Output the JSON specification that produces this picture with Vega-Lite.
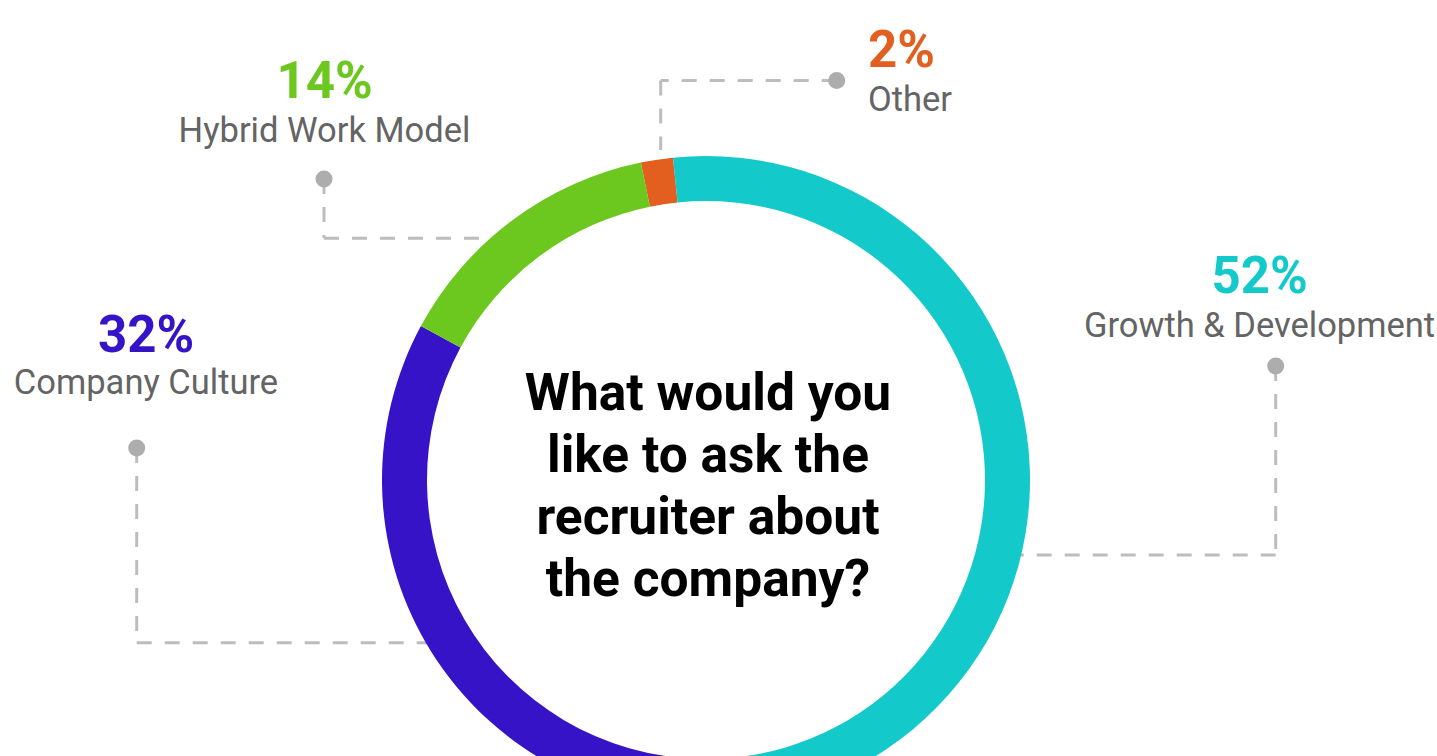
{
  "$schema": "https://vega.github.io/schema/vega-lite/v6.json",
  "width": 1437,
  "height": 756,
  "padding": 0,
  "autosize": {"type": "none"},
  "background": "#ffffff",
  "config": {"view": {"stroke": null}, "font": "Roboto"},
  "datasets": {
    "shares": [
      {"category": "Other", "value": 1.6, "order": 1, "pct": "2%"},
      {"category": "Growth & Development", "value": 52.0, "order": 2, "pct": "52%"},
      {"category": "Company Culture", "value": 32.5, "order": 3, "pct": "32%"},
      {"category": "Hybrid Work Model", "value": 13.9, "order": 4, "pct": "14%"}
    ],
    "leaders": [
      {"category": "Other", "x": 836.7, "y": 80.6, "x2": 660.7, "y2": 80.6},
      {"category": "Other", "x": 660.7, "y": 80.6, "x2": 660.7, "y2": 150},
      {"category": "Hybrid Work Model", "x": 324, "y": 179, "x2": 324, "y2": 238.3},
      {"category": "Hybrid Work Model", "x": 324, "y": 238.3, "x2": 500, "y2": 238.3},
      {"category": "Growth & Development", "x": 1275.7, "y": 366, "x2": 1275.7, "y2": 555},
      {"category": "Growth & Development", "x": 1275.7, "y": 555, "x2": 1010, "y2": 555},
      {"category": "Company Culture", "x": 136.7, "y": 448, "x2": 136.7, "y2": 642.7},
      {"category": "Company Culture", "x": 136.7, "y": 642.7, "x2": 440, "y2": 642.7}
    ],
    "dots": [
      {"category": "Other", "x": 836.7, "y": 80.6},
      {"category": "Hybrid Work Model", "x": 324, "y": 179},
      {"category": "Growth & Development", "x": 1275.7, "y": 366},
      {"category": "Company Culture", "x": 136.7, "y": 448}
    ],
    "labels": [
      {"category": "Other", "pct": "2%", "name": "Other", "x": 868, "yp": 66.7, "yn": 110.7},
      {"category": "Hybrid Work Model", "pct": "14%", "name": "Hybrid Work Model", "x": 324.5, "yp": 98.3, "yn": 141.7},
      {"category": "Growth & Development", "pct": "52%", "name": "Growth & Development", "x": 1259.5, "yp": 293, "yn": 337},
      {"category": "Company Culture", "pct": "32%", "name": "Company Culture", "x": 146, "yp": 351.7, "yn": 394}
    ],
    "center": [
      {"question": "What would you\nlike to ask the\nrecruiter about\nthe company?", "x": 708, "y": 410}
    ]
  },
  "layer": [
    {
      "data": {"name": "leaders"},
      "mark": {"type": "rule", "stroke": "#bdbdbd", "strokeWidth": 3, "strokeDash": [15, 13]},
      "encoding": {
        "x": {"field": "x", "type": "quantitative", "scale": {"domain": [0, 1437], "nice": false, "zero": false}, "axis": null},
        "y": {"field": "y", "type": "quantitative", "scale": {"domain": [0, 756], "nice": false, "zero": false, "reverse": true}, "axis": null},
        "x2": {"field": "x2"},
        "y2": {"field": "y2"}
      }
    },
    {
      "data": {"name": "shares"},
      "mark": {"type": "arc", "radius": 324, "radius2": 279},
      "encoding": {
        "theta": {"field": "value", "type": "quantitative", "stack": true, "scale": {"range": [-0.2025, 6.0807]}},
        "order": {"field": "order", "type": "quantitative"},
        "color": {
          "field": "category", "type": "nominal",
          "scale": {"domain": ["Other", "Growth & Development", "Company Culture", "Hybrid Work Model"], "range": ["#E25F1F", "#13C9CA", "#3713C8", "#6CC81E"]},
          "legend": null
        },
        "x": {"datum": 706, "type": "quantitative"},
        "y": {"datum": 480, "type": "quantitative"}
      }
    },
    {
      "data": {"name": "dots"},
      "mark": {"type": "point", "filled": true, "shape": "circle", "size": 290, "color": "#adadad", "opacity": 1},
      "encoding": {
        "x": {"field": "x", "type": "quantitative"},
        "y": {"field": "y", "type": "quantitative"}
      }
    },
    {
      "data": {"name": "labels"},
      "transform": [{"filter": "datum.category !== 'Other'"}],
      "mark": {"type": "text", "font": "Roboto", "fontWeight": "bold", "fontSize": 51, "align": "center", "baseline": "alphabetic"},
      "encoding": {
        "x": {"field": "x", "type": "quantitative"},
        "y": {"field": "yp", "type": "quantitative"},
        "text": {"field": "pct"},
        "color": {"field": "category", "type": "nominal", "legend": null}
      }
    },
    {
      "data": {"name": "labels"},
      "transform": [{"filter": "datum.category === 'Other'"}],
      "mark": {"type": "text", "font": "Roboto", "fontWeight": "bold", "fontSize": 51, "align": "left", "baseline": "alphabetic"},
      "encoding": {
        "x": {"field": "x", "type": "quantitative"},
        "y": {"field": "yp", "type": "quantitative"},
        "text": {"field": "pct"},
        "color": {"field": "category", "type": "nominal", "legend": null}
      }
    },
    {
      "data": {"name": "labels"},
      "transform": [{"filter": "datum.category !== 'Other'"}],
      "mark": {"type": "text", "font": "Roboto", "fontSize": 34.5, "align": "center", "baseline": "alphabetic", "color": "#646464"},
      "encoding": {
        "x": {"field": "x", "type": "quantitative"},
        "y": {"field": "yn", "type": "quantitative"},
        "text": {"field": "name"}
      }
    },
    {
      "data": {"name": "labels"},
      "transform": [{"filter": "datum.category === 'Other'"}],
      "mark": {"type": "text", "font": "Roboto", "fontSize": 34.5, "align": "left", "baseline": "alphabetic", "color": "#646464"},
      "encoding": {
        "x": {"field": "x", "type": "quantitative"},
        "y": {"field": "yn", "type": "quantitative"},
        "text": {"field": "name"}
      }
    },
    {
      "data": {"name": "center"},
      "mark": {"type": "text", "font": "Roboto", "fontWeight": "bold", "fontSize": 51.5, "align": "center", "baseline": "alphabetic", "lineBreak": "\n", "lineHeight": 62, "color": "#000000"},
      "encoding": {
        "x": {"field": "x", "type": "quantitative"},
        "y": {"field": "y", "type": "quantitative"},
        "text": {"field": "question"}
      }
    }
  ]
}
